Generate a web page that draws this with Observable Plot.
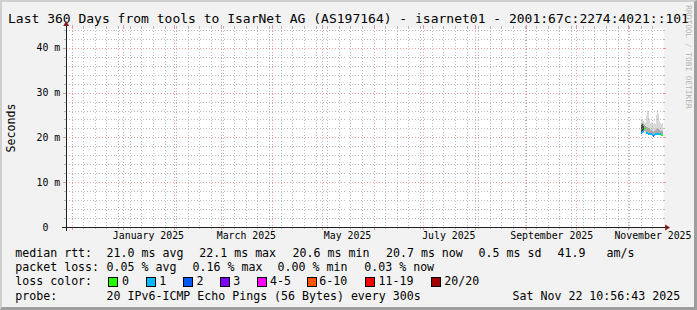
<!DOCTYPE html>
<html><head><meta charset="utf-8">
<script src="https://cdn.jsdelivr.net/npm/d3@7"></script>
<script src="https://cdn.jsdelivr.net/npm/@observablehq/plot@0.6"></script>
<style>
html,body{margin:0;padding:0;background:#f2f2f2;}
#chart{position:relative;width:697px;height:310px;overflow:hidden;background:#f2f2f2;
  font-family:"DejaVu Sans Mono",monospace;color:#000;box-sizing:border-box;
  border-top:2px solid #cfcfcf;border-left:2px solid #cfcfcf;border-right:3px solid #9e9e9e;border-bottom:3px solid #9e9e9e;}
#plot{position:absolute;left:-2px;top:-2px;}
#plot svg{white-space:pre;}
.t{position:absolute;white-space:pre;font-size:11.6px;line-height:14px;}
#title{position:absolute;left:-2px;top:10.3px;width:697px;text-align:center;white-space:pre;font-size:13px;line-height:13px;}
.box{position:absolute;width:8px;height:8px;border:1px solid #000;}
#ylab{position:absolute;left:8.7px;top:126px;transform:translate(-50%,-50%) rotate(-90deg);font-size:11.6px;line-height:14px;white-space:pre;}
#wm{position:absolute;left:685.5px;top:54.5px;transform:translate(-50%,-50%) rotate(90deg);font-size:7.8px;line-height:9px;white-space:pre;color:#b4b4b4;}
</style></head>
<body>
<div id="chart">
  <div id="title"></div>
  <div id="plot"></div>
  <div id="ylab"></div>
  <div id="wm"></div>
</div>
<script>
// ---- data ----
const titleText = "Last 360 Days from tools to IsarNet AG (AS197164) - isarnet01 - 2001:67c:2274:4021::101";
const yAxisTitle = "Seconds";
const watermark = "RRDTOOL / TOBI OETIKER";
const startTime = "2024-11-27T10:56:43Z";
const endTime = "2025-11-22T10:56:43Z";

const monthGrid = ["2024-12-01","2025-01-01","2025-02-01","2025-03-01","2025-04-01","2025-05-01",
  "2025-06-01","2025-07-01","2025-08-01","2025-09-01","2025-10-01","2025-11-01"];
const monthLabelDates = ["2025-01-16","2025-03-16","2025-05-16","2025-07-16","2025-09-16","2025-11-16"];
const monthLabels = ["January 2025","March 2025","May 2025","July 2025","September 2025","November 2025"];

const yMajorTicks = [0, 10, 20, 30, 40];
const yTickLabels = ["0  ", "10 m", "20 m", "30 m", "40 m"];
const yMinorTicks = [2,4,6,8,12,14,16,18,22,24,26,28,32,34,36,38,42,44];

const sampleTimes = ["2025-11-08T23:00Z","2025-11-09T13:24Z","2025-11-10T03:48Z","2025-11-10T18:12Z",
  "2025-11-11T08:36Z","2025-11-11T23:00Z","2025-11-12T13:24Z","2025-11-13T03:48Z","2025-11-13T18:12Z",
  "2025-11-14T08:36Z","2025-11-14T23:00Z","2025-11-15T13:24Z","2025-11-16T03:48Z","2025-11-16T18:12Z",
  "2025-11-17T08:36Z","2025-11-17T23:00Z","2025-11-18T13:24Z","2025-11-19T03:48Z","2025-11-19T18:12Z",
  "2025-11-20T08:36Z","2025-11-20T23:00Z","2025-11-21T13:24Z","2025-11-22T03:48Z"];
const medianMs  = [21.0,21.3,21.6,22.0,22.1,21.0,21.0,20.9,20.9,20.8,20.8,20.7,20.4,20.6,20.8,20.9,20.9,20.9,20.8,20.8,20.7,20.7,20.7];
const lossCount = [1,1,1,0,0,1,1,1,1,1,1,1,2,1,1,1,1,1,1,1,0,0,1];
const smokeLo   = [20.7,20.8,20.9,21.0,21.0,20.8,20.8,20.7,20.7,20.6,20.6,20.5,20.3,20.4,20.6,20.6,20.6,20.6,20.6,20.6,20.5,20.5,20.5];
const smokeQ1   = [20.9,21.0,21.2,21.4,21.5,21.0,21.0,20.9,20.9,20.8,20.8,20.7,20.4,20.6,20.8,20.9,20.9,20.9,20.8,20.8,20.7,20.7,20.7];
const smokeQ3   = [23.3,23.2,23.0,22.8,22.6,22.3,22.4,22.2,22.0,21.7,21.6,21.5,21.3,21.4,21.6,21.9,22.1,21.9,21.6,21.5,21.4,21.4,21.5];
const smokeHi   = [24.0,23.8,23.6,23.4,23.2,24.8,26.1,25.6,24.2,23.1,23.4,23.3,22.9,23.3,23.0,25.0,26.1,25.2,23.6,23.3,23.0,23.3,23.0];
const coreLo    = [21.0,21.0,21.2,null,null,null,null,null,null,null,null,null,null,null,null,null,null,null,null,null,null,null,null];
const coreHi    = [22.8,23.0,22.5,null,null,null,null,null,null,null,null,null,null,null,null,null,null,null,null,null,null,null,null];

const lossColors = ["#26ff00","#00b8ff","#0059ff","#7e00ff","#ff00ff","#ff5500","#ff0000","#a10000"];
const lossLegend = ["0","1","2","3","4-5","6-10","11-19","20/20"];

const rttTitle = "median rtt:";
const rttStats = ["21.0 ms avg","22.1 ms max","20.6 ms min","20.7 ms now","0.5 ms sd","41.9   am/s"];
const lossTitle = "packet loss:";
const lossStats = ["0.05 % avg","0.16 % max","0.00 % min","0.03 % now"];
const colorTitle = "loss color:";
const probeTitle = "probe:";
const probeText = "20 IPv6-ICMP Echo Pings (56 Bytes) every 300s";
const stampText = "Sat Nov 22 10:56:43 2025";

// ---- build ----
const T0 = new Date(startTime), T1 = new Date(endTime);
function lossClass(n){ if(n<=3) return n; if(n<=5) return 4; if(n<=10) return 5; if(n<=19) return 6; return 7; }
const rows = sampleTimes.map((t,i)=>({
  t:new Date(t), t2: i+1<sampleTimes.length ? new Date(sampleTimes[i+1]) : T1,
  med:medianMs[i], loss:lossCount[i], lo:smokeLo[i], q1:smokeQ1[i], q3:smokeQ3[i], hi:smokeHi[i],
  cLo:coreLo[i], cHi:coreHi[i]
}));
const months = monthGrid.map(d=>new Date(d+"T00:00:00Z"));
const monthSet = new Set(months.map(d=>+d));
const weeks = d3.utcSunday.range(T0, T1).filter(d=>!monthSet.has(+d));
const labelDates = monthLabelDates.map(d=>new Date(d+"T00:00:00Z"));
const labelMap = new Map(labelDates.map((d,i)=>[+d, monthLabels[i]]));

const W=697, H=250, ML=66, MR=31, MT=28, MB=22, PH=H-MT-MB;
const gridGrey = "rgba(143,143,143,0.6)";
const gridRed  = "rgba(222,79,79,0.55)";
const dash = "1,2";

function axesMark(index, scales, values, dims){
  const x0 = dims.marginLeft, x1 = dims.width - dims.marginRight;
  const y0 = dims.height - dims.marginBottom, y1 = dims.marginTop;
  const g = d3.create("svg:g").attr("shape-rendering","crispEdges");
  g.append("line").attr("x1",x0-4).attr("x2",x1+4).attr("y1",y0+0.5).attr("y2",y0+0.5).attr("stroke","#1f1f1f");
  g.append("line").attr("x1",x0+0.5).attr("x2",x0+0.5).attr("y1",y0+4).attr("y2",y1-4).attr("stroke","#1f1f1f");
  g.append("path").attr("shape-rendering","auto").attr("fill","#801f1f")
    .attr("d",`M${x1+2},${y0+0.5-3}L${x1+2},${y0+0.5+3}L${x1+7},${y0+0.5}Z`);
  g.append("path").attr("shape-rendering","auto").attr("fill","#801f1f")
    .attr("d",`M${x0+0.5-3},${y1-2}L${x0+0.5+3},${y1-2}L${x0+0.5},${y1-7}Z`);
  return g.node();
}

const chart = Plot.plot({
  width: W, height: H, marginLeft: ML, marginRight: MR, marginTop: MT, marginBottom: MB,
  style: {fontFamily: "'DejaVu Sans Mono', monospace", fontSize: "9.9px", background: "transparent", overflow: "visible", color: "#000"},
  x: {type: "utc", domain: [T0, T1]},
  y: {domain: [0, 200/4.5]},
  color: {type: "identity"},
  marks: [
    Plot.frame({fill: "#ffffff", stroke: null}),
    // smoke
    Plot.rect(rows, {x1:"t", x2:"t2", y1:"lo", y2:"hi", fill:"#d8d8d8", shapeRendering:"crispEdges"}),
    Plot.rect(rows, {x1:"t", x2:"t2", y1:"q1", y2:"q3", fill:"#aaaaaa", shapeRendering:"crispEdges"}),
    Plot.rect(rows.filter(d=>d.cLo!=null), {x1:"t", x2:"t2", y1:"cLo", y2:"cHi", fill:"#4a4a4a", shapeRendering:"crispEdges"}),
    // grid minor
    Plot.ruleX(weeks, {stroke: gridGrey, strokeDasharray: dash, shapeRendering:"crispEdges"}),
    Plot.ruleX(weeks, {stroke: gridGrey, insetTop:-2, insetBottom:PH, shapeRendering:"crispEdges"}),
    Plot.ruleX(weeks, {stroke: gridGrey, insetTop:PH, insetBottom:-2, shapeRendering:"crispEdges"}),
    Plot.ruleY(yMinorTicks, {stroke: gridGrey, strokeDasharray: dash, shapeRendering:"crispEdges"}),
    Plot.ruleY(yMinorTicks, {stroke: gridGrey, insetLeft:-2, insetRight:W-ML-MR, shapeRendering:"crispEdges"}),
    Plot.ruleY(yMinorTicks, {stroke: gridGrey, insetLeft:W-ML-MR, insetRight:-2, shapeRendering:"crispEdges"}),
    // grid major
    Plot.ruleX(months, {stroke: gridRed, strokeDasharray: dash, shapeRendering:"crispEdges"}),
    Plot.ruleX(months, {stroke: gridRed, insetTop:-3, insetBottom:PH, shapeRendering:"crispEdges"}),
    Plot.ruleX(months, {stroke: gridRed, insetTop:PH, insetBottom:-3, shapeRendering:"crispEdges"}),
    Plot.ruleY(yMajorTicks.slice(1), {stroke: gridRed, strokeDasharray: dash, shapeRendering:"crispEdges"}),
    Plot.ruleY(yMajorTicks.slice(1), {stroke: gridRed, insetLeft:-3, insetRight:W-ML-MR, shapeRendering:"crispEdges"}),
    Plot.ruleY(yMajorTicks.slice(1), {stroke: gridRed, insetLeft:W-ML-MR, insetRight:-3, shapeRendering:"crispEdges"}),
    // median line coloured by loss
    Plot.ruleY(rows, {y:"med", x1:"t", x2:"t2", stroke: d=>lossColors[lossClass(d.loss)], strokeWidth: 2, shapeRendering:"crispEdges"}),
    axesMark,
    Plot.axisX(labelDates, {tickSize: 0, tickPadding: 4.5, tickFormat: d=>labelMap.get(+d), label: null}),
    Plot.axisY(yMajorTicks, {tickSize: 0, tickPadding: 6, tickFormat: d=>yTickLabels[yMajorTicks.indexOf(d)], label: null})
  ]
});
document.getElementById("plot").appendChild(chart);

// ---- texts ----
document.getElementById("title").textContent = titleText;
document.getElementById("ylab").textContent = yAxisTitle;
document.getElementById("wm").textContent = watermark;

const chartDiv = document.getElementById("chart");
function addText(x, y, s){
  const e = document.createElement("div"); e.className = "t";
  e.style.left = (x-2)+"px"; e.style.top = (y-2)+"px"; e.textContent = s; chartDiv.appendChild(e);
}
function addBox(x, y, c){
  const e = document.createElement("div"); e.className = "box";
  e.style.left = (x-2)+"px"; e.style.top = (y-2)+"px"; e.style.background = c; chartDiv.appendChild(e);
}
const rowTop = [246, 260.2, 274.4, 288.6];
const colX = 15.3;
addText(colX, rowTop[0], rttTitle);
[106.6, 199.3, 292.6, 386, 478.6, 557.6].forEach((x,i)=>addText(x, rowTop[0], rttStats[i]));
addText(colX, rowTop[1], lossTitle);
[106.6, 192.6, 277.6, 364.3].forEach((x,i)=>addText(x, rowTop[1], lossStats[i]));
addText(colX, rowTop[2], colorTitle);
const boxX = [108.3, 145.7, 183.3, 220, 256.7, 306.7, 365, 430.7];
const lblX = [122, 159.3, 196.6, 233.3, 270, 319.3, 378.6, 444.3];
lossLegend.forEach((s,i)=>{ addBox(boxX[i], 277, lossColors[i]); addText(lblX[i], rowTop[2], s); });
addText(colX, rowTop[3], probeTitle);
addText(106.6, rowTop[3], probeText);
addText(512.6, rowTop[3], stampText);
</script>
</body></html>
